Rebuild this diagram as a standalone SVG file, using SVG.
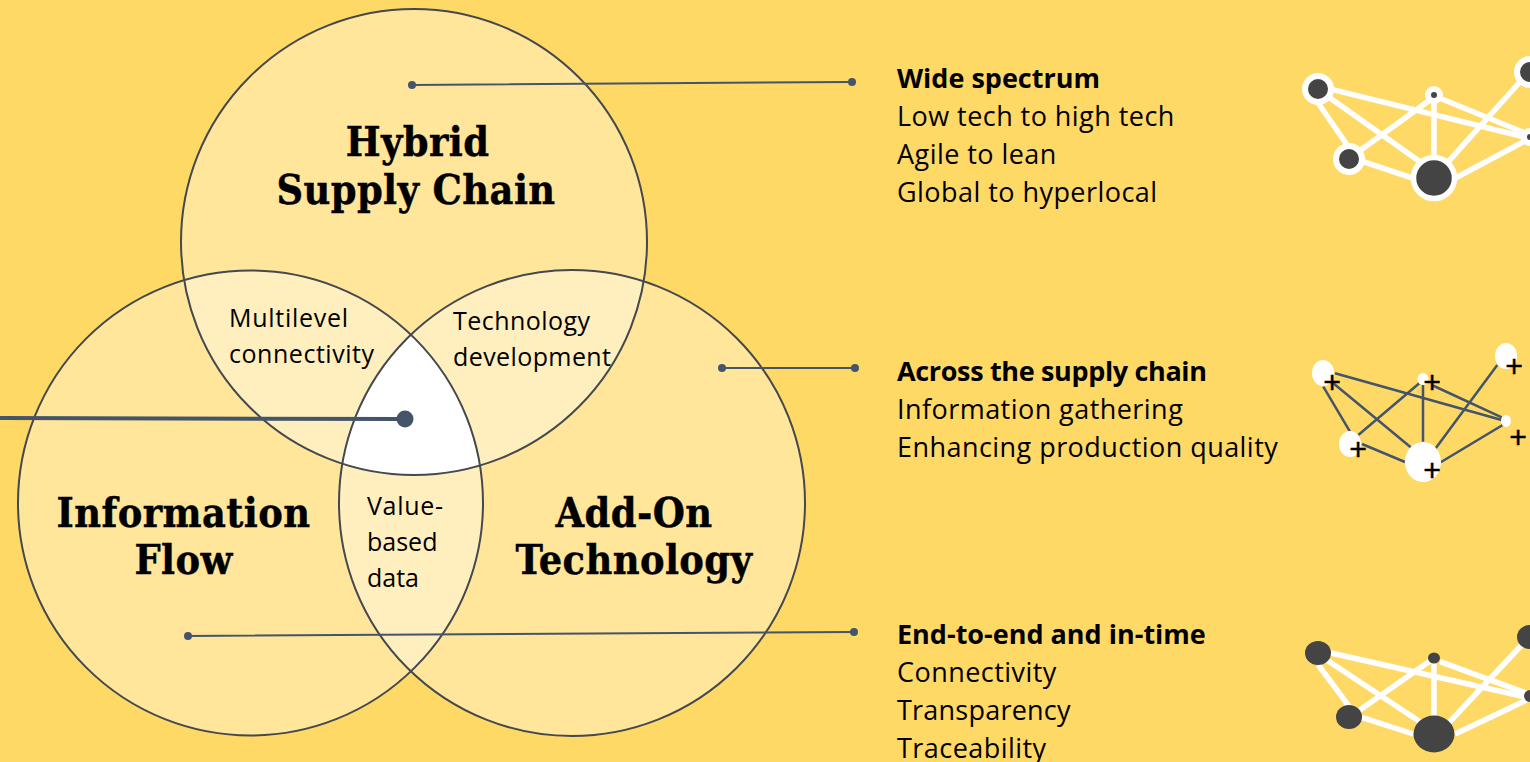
<svg xmlns="http://www.w3.org/2000/svg" width="1530" height="762" viewBox="0 0 1530 762">
<style>
.c{fill:#fff;fill-opacity:.35;stroke:none}
.o{fill:none;stroke:#44484f;stroke-width:2}
.h{font:bold 41px "DejaVu Serif Condensed","DejaVu Serif",serif;font-stretch:condensed;fill:#000;stroke:#000;stroke-width:.4;letter-spacing:.4px;text-anchor:middle}
.m{font:25px "Open Sans",sans-serif;fill:#000}
.t{font:27px "Open Sans",sans-serif;fill:#000;letter-spacing:.45px}
.b{font-weight:bold;letter-spacing:0}
.l{stroke:#44546a;stroke-width:2;fill:none}
.l2{stroke:#44546a;stroke-width:2.500;fill:none}
.d{fill:#44546a}
.w{stroke:#fff;stroke-width:5.500;fill:none}
.n{fill:#444}
.r{stroke:#fff;stroke-width:6;fill:#444}
.e{fill:#fff}
.p{font:31px "Open Sans",sans-serif;fill:#000;stroke:#000;stroke-width:.5;text-anchor:middle}
</style>
<defs>
<clipPath id="ca"><circle cx="414" cy="242" r="233"/></clipPath>
<clipPath id="cb"><circle cx="250.500" cy="503" r="232.500"/></clipPath>
</defs>
<rect width="1530" height="762" fill="#ffd966"/>
<g id="circle-top"><circle class="c" cx="414" cy="242" r="233"/></g>
<g id="circle-left"><circle class="c" cx="250.500" cy="503" r="232.500"/></g>
<g id="circle-right"><circle class="c" cx="572" cy="503" r="233"/></g>
<g id="center" clip-path="url(#ca)"><g clip-path="url(#cb)"><circle cx="572" cy="503" r="233" fill="#fff"/></g></g>
<g id="outlines">
<circle class="o" cx="414" cy="242" r="233"/>
<circle class="o" cx="250.500" cy="503" r="232.500"/>
<circle class="o" cx="572" cy="503" r="233"/>
</g>
<g id="connectors">
<path class="l" d="M412 85L852 82M722 368H855M188 636L854 632"/>
<path class="l" style="stroke-width:4" d="M0 418L405 419"/>
<circle class="d" cx="412" cy="85" r="4"/><circle class="d" cx="852" cy="82" r="4"/>
<circle class="d" cx="722" cy="368" r="4"/><circle class="d" cx="855" cy="368" r="4"/>
<circle class="d" cx="188" cy="636" r="4"/><circle class="d" cx="854" cy="632" r="4"/>
<circle class="d" cx="405" cy="419" r="8.500"/>
</g>
<g id="label-top"><text class="h" x="417.500" y="156">Hybrid</text><text class="h" x="416" y="204">Supply Chain</text></g>
<g id="label-left"><text class="h" x="183.500" y="527">Information</text><text class="h" x="183.500" y="574">Flow</text></g>
<g id="label-right"><text class="h" x="634" y="527">Add-On</text><text class="h" x="634" y="574">Technology</text></g>
<g id="label-ml"><text class="m" x="229" y="327" textLength="119">Multilevel</text><text class="m" x="229" y="363" textLength="145">connectivity</text></g>
<g id="label-td"><text class="m" x="453" y="330" textLength="137">Technology</text><text class="m" x="453" y="366" textLength="158">development</text></g>
<g id="label-vb"><text class="m" x="367" y="515" textLength="76">Value-</text><text class="m" x="367" y="551">based</text><text class="m" x="367" y="587">data</text></g>
<g id="text-1"><text class="t b" x="897" y="88">Wide spectrum</text><text class="t" x="897" y="126">Low tech to high tech</text><text class="t" x="897" y="164">Agile to lean</text><text class="t" x="897" y="202">Global to hyperlocal</text></g>
<g id="text-2"><text class="t b" x="897" y="381" textLength="310">Across the supply chain</text><text class="t" x="897" y="419">Information gathering</text><text class="t" x="897" y="457">Enhancing production quality</text></g>
<g id="text-3"><text class="t b" x="897" y="644">End-to-end and in-time</text><text class="t" x="897" y="682">Connectivity</text><text class="t" x="897" y="720" textLength="174">Transparency</text><text class="t" x="897" y="758">Traceability</text></g>
<g id="network-1">
<path class="w" d="M1318.300 103.300L1348.300 146.700M1328.300 96.700L1420 161.700M1331.700 89.300L1530 138.300M1430 100L1358.300 151.700M1434 95V165M1440 98.300L1530 135M1363.300 161.700L1413.300 178.300M1521.700 80L1448.300 161.700M1530 138.300L1455 178.300"/>
<circle class="r" cx="1318" cy="89" r="13"/><circle class="r" cx="1434" cy="95" r="6"/><circle class="r" cx="1349" cy="159" r="13"/><circle class="r" cx="1434" cy="178" r="20.500" style="stroke-width:5.500"/><circle class="r" cx="1530" cy="72" r="13"/><circle class="r" cx="1530" cy="137" r="6"/>
</g>
<g id="network-2">
<path class="l2" d="M1323.300 386.700L1350 431.700M1333.300 383.300L1410.700 447.300M1335 373.300L1501.700 420M1419.300 383.300L1358.300 435M1423 385V441.700M1431.700 385L1501.700 417.300M1362 444L1405 462M1497.300 365L1435.700 448.300M1502.700 425L1440.700 462.300"/>
<ellipse class="e" cx="1323" cy="373" rx="11" ry="13"/><ellipse class="e" cx="1423" cy="379" rx="5.500" ry="6"/><ellipse class="e" cx="1350" cy="444" rx="11" ry="13"/><ellipse class="e" cx="1423" cy="462" rx="18" ry="20"/><ellipse class="e" cx="1506" cy="356" rx="11" ry="13"/><ellipse class="e" cx="1506" cy="421" rx="5" ry="6"/>
<text class="p" x="1332" y="394">+</text><text class="p" x="1432" y="394">+</text><text class="p" x="1358" y="461">+</text><text class="p" x="1432" y="482">+</text><text class="p" x="1514" y="378">+</text><text class="p" x="1518" y="449">+</text>
</g>
<g id="network-3">
<path class="w" d="M1318.300 665L1349.300 706.700M1326.700 660L1420 721.700M1330 652.700L1526.700 697.300M1430 661L1357.300 711.700M1434 660V720M1440 661.700L1526.700 693.300M1361.700 717.300L1413.300 734M1521.700 645L1448.300 723.300M1526.700 700L1455 734"/>
<ellipse class="n" cx="1318" cy="653" rx="13" ry="12"/><ellipse class="n" cx="1434" cy="658" rx="6" ry="5.500"/><ellipse class="n" cx="1349" cy="717" rx="13" ry="12"/><ellipse class="n" cx="1434" cy="734" rx="20.500" ry="18.500"/><ellipse class="n" cx="1530" cy="637" rx="13" ry="12"/><ellipse class="n" cx="1530" cy="696" rx="6" ry="6"/>
</g>
</svg>
